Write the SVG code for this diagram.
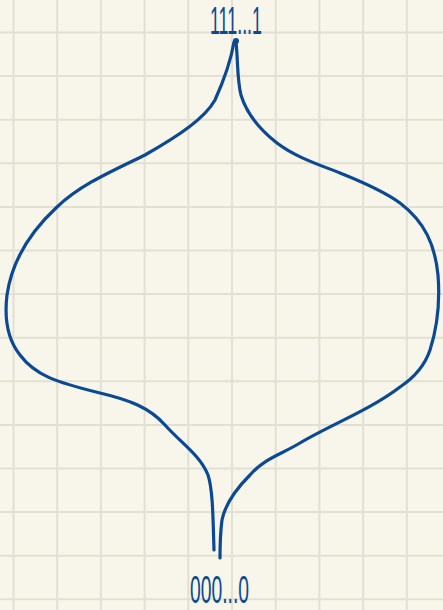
<svg xmlns="http://www.w3.org/2000/svg" width="443" height="610" viewBox="0 0 443 610">
<style>
.grid line{stroke:#e2e0d3;stroke-width:2}
.ink{fill:none;stroke:#0b4a92;stroke-width:3.2;stroke-linecap:round;stroke-linejoin:round}
.lbl{font-family:"Liberation Sans",Arial,sans-serif;font-size:38px;fill:#0b4a92}
</style>
<rect width="443" height="610" fill="#f8f6ea"/>
<g class="grid">
<line x1="13.5" y1="0" x2="13.5" y2="610"/><line x1="57.2" y1="0" x2="57.2" y2="610"/><line x1="100.9" y1="0" x2="100.9" y2="610"/><line x1="144.6" y1="0" x2="144.6" y2="610"/><line x1="188.3" y1="0" x2="188.3" y2="610"/><line x1="232" y1="0" x2="232" y2="610"/><line x1="275.7" y1="0" x2="275.7" y2="610"/><line x1="319.4" y1="0" x2="319.4" y2="610"/><line x1="363.1" y1="0" x2="363.1" y2="610"/><line x1="406.8" y1="0" x2="406.8" y2="610"/>
<line x1="0" y1="32.5" x2="443" y2="32.5"/><line x1="0" y1="76.1" x2="443" y2="76.1"/><line x1="0" y1="119.7" x2="443" y2="119.7"/><line x1="0" y1="163.3" x2="443" y2="163.3"/><line x1="0" y1="206.9" x2="443" y2="206.9"/><line x1="0" y1="250.5" x2="443" y2="250.5"/><line x1="0" y1="294.1" x2="443" y2="294.1"/><line x1="0" y1="337.7" x2="443" y2="337.7"/><line x1="0" y1="381.3" x2="443" y2="381.3"/><line x1="0" y1="424.9" x2="443" y2="424.9"/><line x1="0" y1="468.5" x2="443" y2="468.5"/><line x1="0" y1="512.1" x2="443" y2="512.1"/><line x1="0" y1="555.7" x2="443" y2="555.7"/><line x1="0" y1="599.3" x2="443" y2="599.3"/>
</g>
<g id="connectors">
<path class="ink" d="M234,42 C231,60 224,80 215,100 C205,118 180,135 145,155 C110,172 80,185 57,207 C30,232 12,260 7,295 C4,320 8,340 20,355 C35,375 55,382 100,393 C130,400 150,408 165,425 C182,444 200,455 208,475 C213,490 213,520 214,550"/>
<path class="ink" d="M236,42 C238,60 237,80 241,95 C246,112 258,128 277,143 C295,157 320,165 340,173 C365,183 385,192 400,203 C425,222 435,245 438,275 C440,300 438,325 430,350 C425,365 415,377 400,387 C370,410 330,425 300,443 C280,455 265,458 250,475 C235,490 225,505 222,520 C220,535 220,545 220,558"/>
<circle cx="236" cy="41" r="3" fill="#0b4a92"/>
</g>
<g id="top">
<text class="lbl" x="210" y="34" textLength="52" lengthAdjust="spacingAndGlyphs">111...1</text>
</g>
<g id="bottom">
<text class="lbl" x="190" y="603" textLength="59" lengthAdjust="spacingAndGlyphs">000...0</text>
</g>
</svg>
